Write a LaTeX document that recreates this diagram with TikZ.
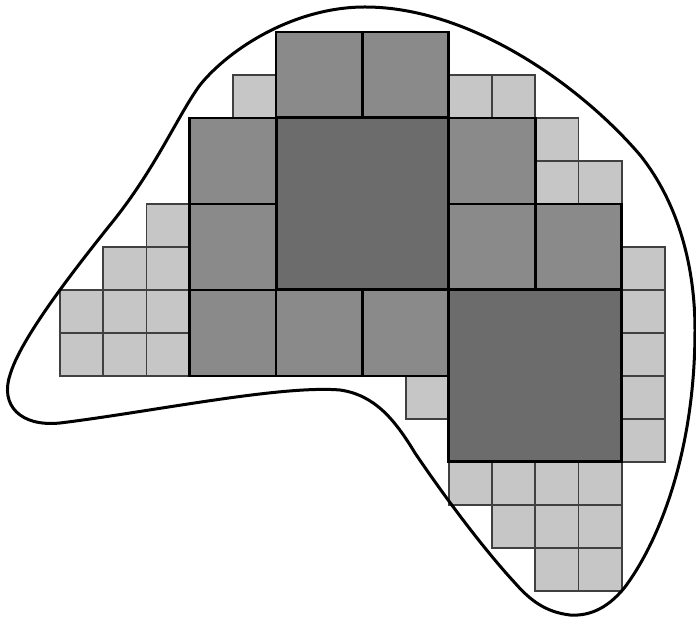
\documentclass[tikz,border=0pt]{standalone}
\definecolor{lgray}{RGB}{198,198,198}
\definecolor{mgray}{RGB}{138,138,138}
\definecolor{dgray}{RGB}{108,108,108}
\begin{document}
\begin{tikzpicture}[x=0.5pt,y=-0.5pt,
  lsq/.style={fill=lgray, draw=black!75, line width=0.9pt},
  msq/.style={fill=mgray, draw=black, line width=1.4pt},
  dsq/.style={fill=dgray, draw=black, line width=1.5pt},
  outline/.style={draw=black, line width=1.5pt}]
\useasboundingbox (0,0) rectangle (696,619);
\begin{scope}[shift={(60,32)}, x=21.6pt, y=-21.5pt]
\foreach \c/\r in {4/1, 9/1, 10/1, 11/2, 11/3, 12/3, 13/5, 13/6, 13/7, 13/8, 13/9,
    2/4, 1/5, 2/5, 0/6, 1/6, 2/6, 0/7, 1/7, 2/7, 8/8,
    9/10, 10/10, 11/10, 12/10, 10/11, 11/11, 12/11, 11/12, 12/12}
  \draw[lsq] (\c,\r) rectangle ++(1,1);
\foreach \c/\r in {5/0, 7/0, 3/2, 3/4, 3/6, 5/6, 7/6, 9/2, 9/4, 11/4}
  \draw[msq] (\c,\r) rectangle ++(2,2);
\foreach \c/\r in {5/2, 9/6}
  \draw[dsq] (\c,\r) rectangle ++(4,4);
\end{scope}
\draw[outline] (365,7)
  .. controls (470,7) and (580,85) .. (640,155)
  .. controls (680,205) and (695,270) .. (695,330)
  .. controls (695,450) and (660,540) .. (625,587)
  .. controls (605,612) and (585,616) .. (570,615)
  .. controls (545,612) and (530,600) .. (515,583)
  .. controls (480,545) and (440,490) .. (415,453)
  .. controls (395,420) and (375,395) .. (340,390)
  .. controls (280,385) and (150,412) .. (60,423)
  .. controls (20,427) and (0,405) .. (10,375)
  .. controls (20,340) and (70,275) .. (110,225)
  .. controls (155,170) and (178,115) .. (200,85)
  .. controls (230,48) and (295,7) .. cycle;
\end{tikzpicture}
\end{document}
